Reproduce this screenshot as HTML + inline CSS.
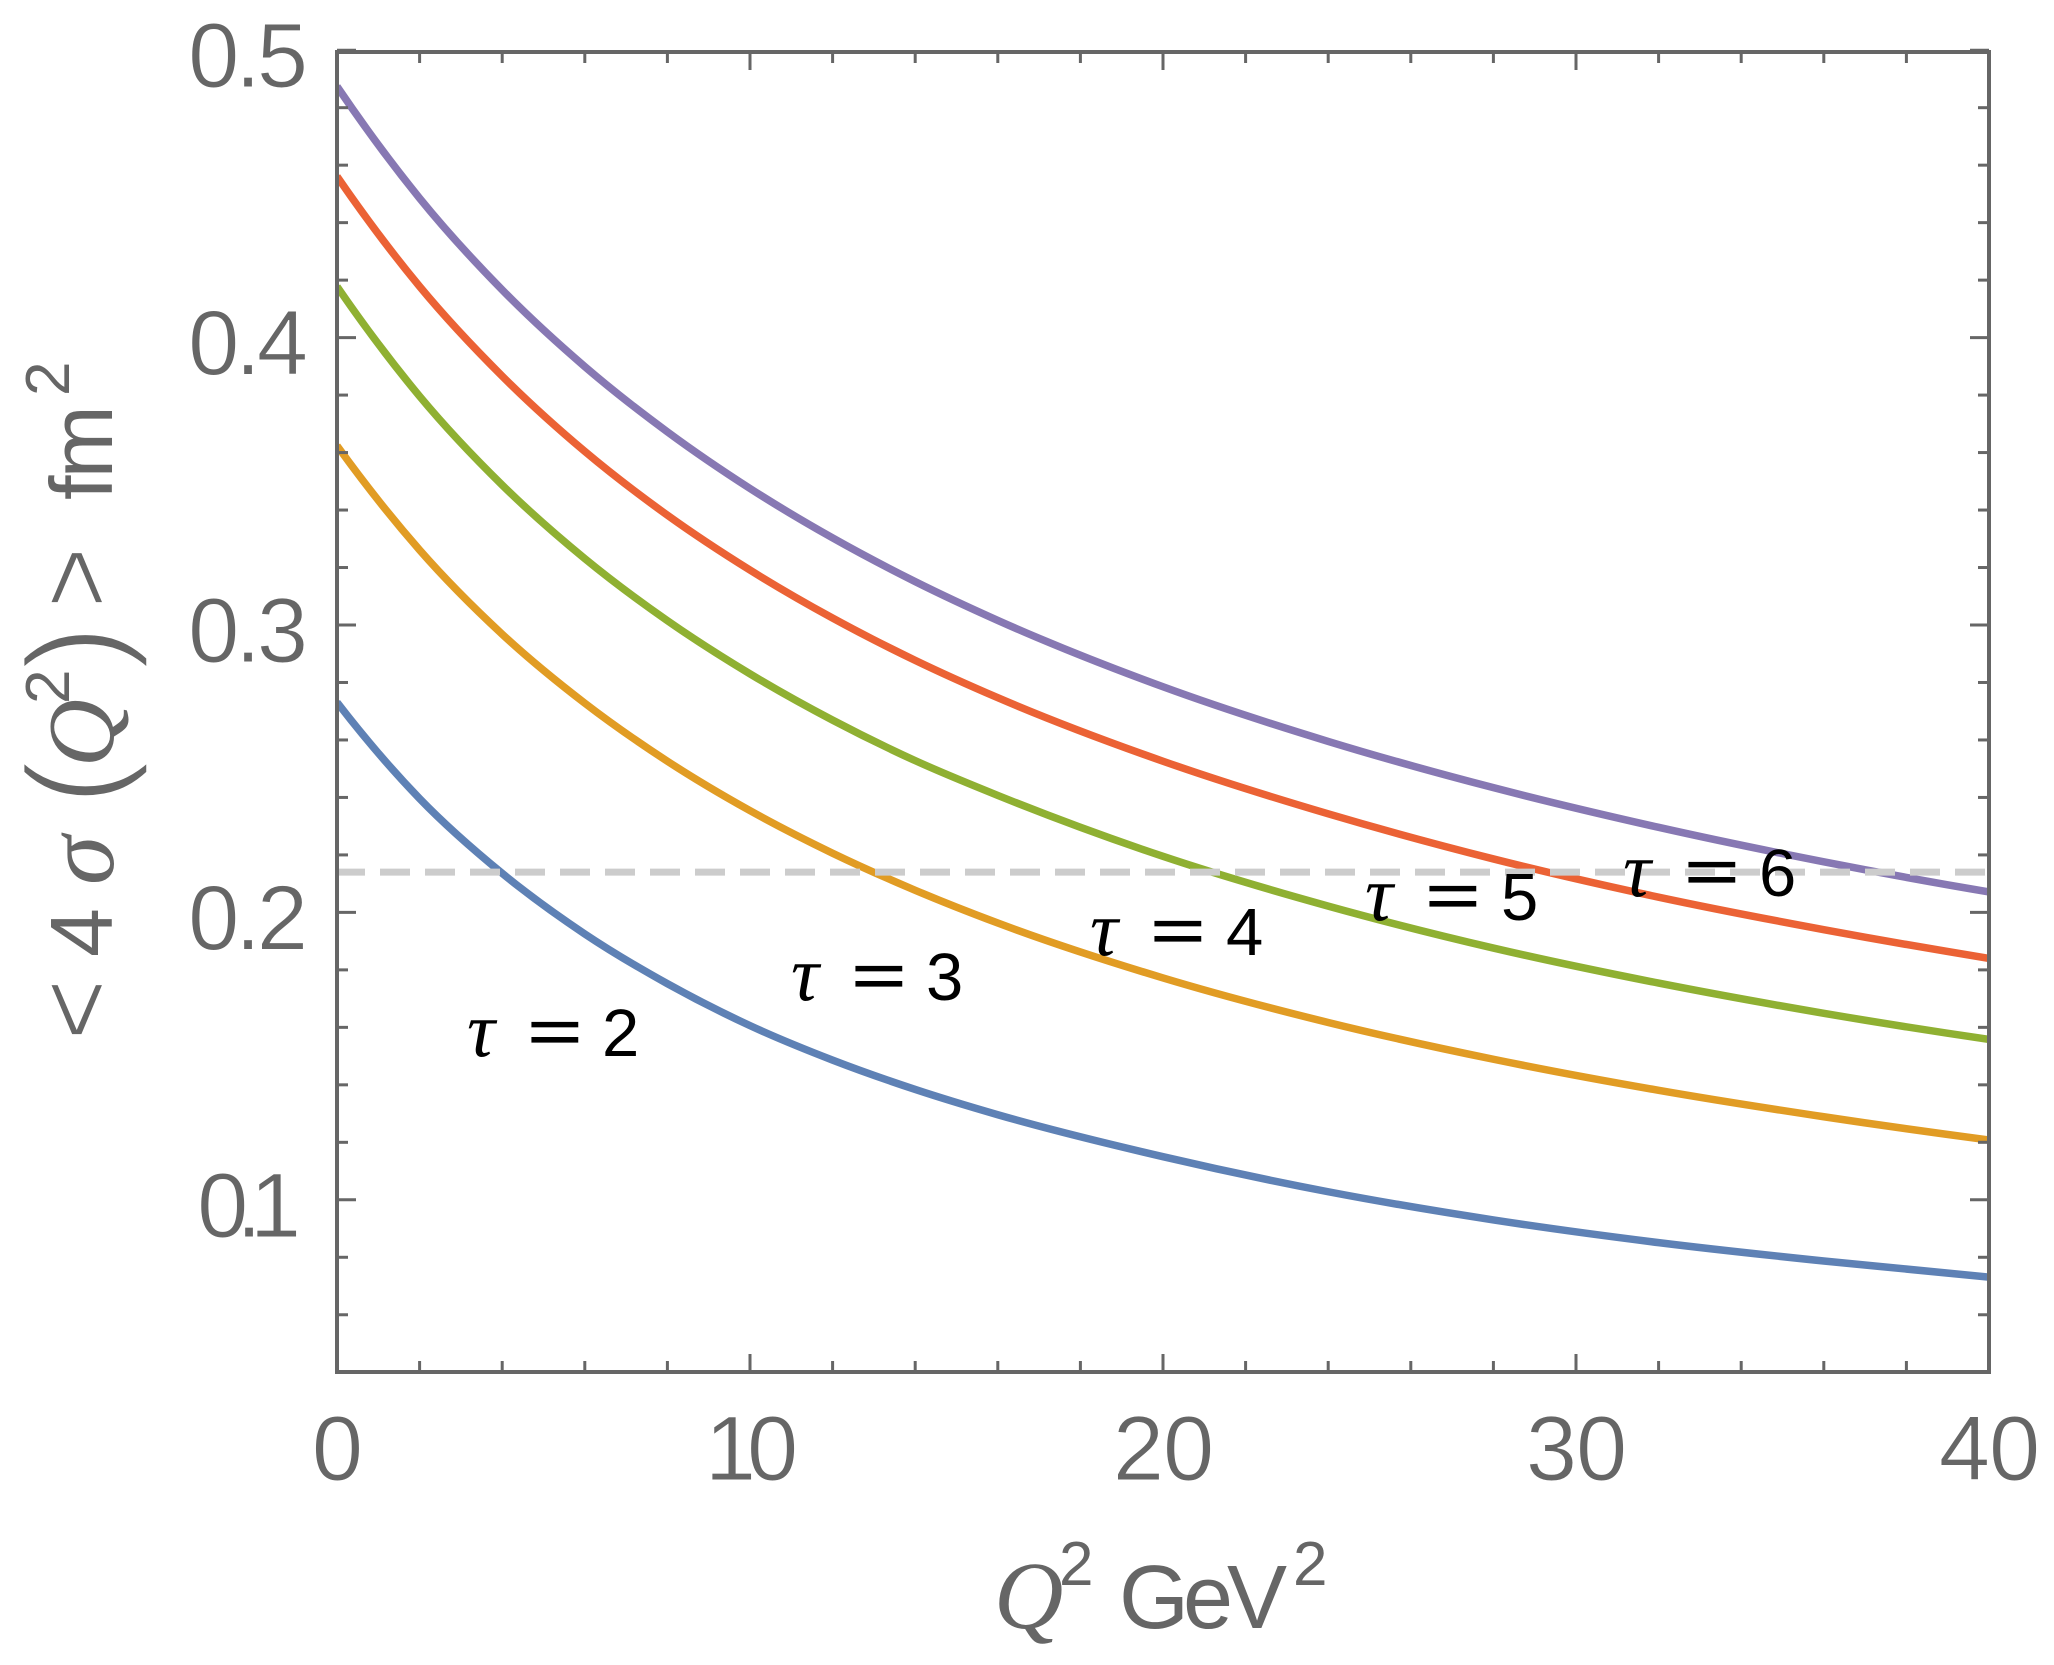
<!DOCTYPE html>
<html lang="en">
<head>
<meta charset="utf-8">
<title>Transverse size vs Q squared</title>
<style>
  html, body { margin: 0; padding: 0; background: #fff; }
  svg { display: block; }
  .tick-label { font-family: "Liberation Sans", sans-serif; font-size: 92px; fill: #666; stroke: #fff; stroke-width: 1; letter-spacing: -4px; }
  .axis-sans { font-family: "Liberation Sans", sans-serif; fill: #666; }
  .axis-serif { font-family: "Liberation Serif", serif; fill: #666; }
  .thin { stroke: #fff; stroke-width: 1.6; }
  .thinner { stroke: #fff; stroke-width: 3; }
  .tau { font-family: "Liberation Serif", serif; font-style: italic; font-size: 78px; fill: #000; }
  .eq { font-family: "DejaVu Sans", sans-serif; font-size: 76px; fill: #000; stroke: #fff; stroke-width: 0.7; }
  .num { font-family: "Liberation Sans", sans-serif; font-size: 67px; fill: #000; }
</style>
</head>
<body>
<svg id="chart" xmlns="http://www.w3.org/2000/svg" width="2054" height="1665" viewBox="0 0 2054 1665">
  <rect width="2054" height="1665" fill="#fff"/>
  <defs>
    <clipPath id="plot-clip"><rect x="337" y="52" width="1652" height="1320"/></clipPath>
  </defs>
  <g id="curves" clip-path="url(#plot-clip)"></g>
  <g id="ref" clip-path="url(#plot-clip)"></g>
  <g id="ticks"></g>
  <rect x="337" y="52" width="1652" height="1320" fill="none" stroke="#666" stroke-width="4"/>
  <g id="labels"></g>

  <g transform="translate(113,1037) rotate(-90)">
    <text class="axis-sans thin" x="-3" y="-2" font-size="104">&lt;</text>
    <text class="axis-sans" x="80" y="-1" font-size="88">4</text>
    <text class="axis-serif" x="152" y="0" font-size="100" font-style="italic">σ</text>
    <text class="axis-sans thinner" x="232" y="7" font-size="134">(</text>
    <text class="axis-serif" x="270" y="0" font-size="94" font-style="italic">Q</text>
    <text class="axis-sans" x="333" y="-44" font-size="62">2</text>
    <text class="axis-sans thinner" x="367" y="7" font-size="134">)</text>
    <text class="axis-sans thin" x="429" y="-2" font-size="104">&gt;</text>
    <text class="axis-sans" x="537" y="-1" font-size="88" letter-spacing="-3">fm</text>
    <text class="axis-sans" x="641" y="-44" font-size="62">2</text>
  </g>

  <g>
    <text class="axis-serif" x="994" y="1628" font-size="96" font-style="italic">Q</text>
    <text class="axis-sans" x="1059" y="1585" font-size="62">2</text>
    <text class="axis-sans" x="1119" y="1628" font-size="90" letter-spacing="-6">GeV</text>
    <text class="axis-sans" x="1293" y="1585" font-size="62">2</text>
  </g>

  <g><text class="tau" x="467" y="1056">τ</text><text class="eq" x="523" y="1056">=</text><text class="num" x="602" y="1056">2</text></g>
  <g><text class="tau" x="791" y="1000">τ</text><text class="eq" x="847" y="1000">=</text><text class="num" x="926" y="1000">3</text></g>
  <g><text class="tau" x="1090" y="955">τ</text><text class="eq" x="1146" y="955">=</text><text class="num" x="1226" y="955">4</text></g>
  <g><text class="tau" x="1365" y="920">τ</text><text class="eq" x="1421" y="920">=</text><text class="num" x="1501" y="920">5</text></g>
  <g><text class="tau" x="1623" y="896">τ</text><text class="eq" x="1680" y="896">=</text><text class="num" x="1759" y="896">6</text></g>
</svg>
<script>
const qValues = [0, 2, 4, 6, 8, 10, 12, 14, 16, 20, 24, 28, 32, 36, 40];
const tau2Values = [0.2731, 0.2396, 0.2136, 0.1925, 0.1752, 0.1606, 0.1486, 0.1384, 0.1296, 0.1150, 0.1028, 0.0930, 0.0851, 0.0787, 0.0731];
const tau3Values = [0.3624, 0.3261, 0.2968, 0.2728, 0.2526, 0.2354, 0.2206, 0.2077, 0.1963, 0.1772, 0.1617, 0.1489, 0.1381, 0.1289, 0.1208];
const tau4Values = [0.4178, 0.3796, 0.3487, 0.3231, 0.3015, 0.2830, 0.2669, 0.2528, 0.2407, 0.2195, 0.2022, 0.1876, 0.1754, 0.1649, 0.1558];
const tau5Values = [0.4561, 0.4178, 0.3866, 0.3604, 0.3382, 0.3191, 0.3024, 0.2877, 0.2747, 0.2526, 0.2343, 0.2186, 0.2053, 0.1940, 0.1840];
const tau6Values = [0.4874, 0.4485, 0.4166, 0.3899, 0.3672, 0.3475, 0.3303, 0.3151, 0.3016, 0.2785, 0.2595, 0.2434, 0.2296, 0.2176, 0.2071];
const referenceValue = 0.214;
const xMajorTicks = [0, 10, 20, 30, 40];
const xMinorTicks = [2, 4, 6, 8, 12, 14, 16, 18, 22, 24, 26, 28, 32, 34, 36, 38];
const yMajorTicks = [0.1, 0.2, 0.3, 0.4, 0.5];
const yMinorTicks = [0.04, 0.06, 0.08, 0.12, 0.14, 0.16, 0.18, 0.22, 0.24, 0.26, 0.28, 0.32, 0.34, 0.36, 0.38, 0.42, 0.44, 0.46, 0.48];
const xTickLabels = ["0", "10", "20", "30", "40"];
const yTickLabels = ["0.1", "0.2", "0.3", "0.4", "0.5"];

const NS = "http://www.w3.org/2000/svg";
const xScale = q => 337 + q * 41.3;
const yScale = v => 1199.8 - (v - 0.1) * 2874;

function make(parent, tag, attrs) {
  const el = document.createElementNS(NS, tag);
  for (const k in attrs) el.setAttribute(k, attrs[k]);
  parent.appendChild(el);
  return el;
}

function curvePath(qs, vs) {
  const n = qs.length;
  const m = [];
  for (let i = 0; i < n; i++) {
    if (i === 0) {
      const h0 = qs[1] - qs[0], h1 = qs[2] - qs[1];
      const d0 = (vs[1] - vs[0]) / h0, d1 = (vs[2] - vs[1]) / h1;
      m.push(d0 + (d0 - d1) * h0 / (h0 + h1));
    } else if (i === n - 1) {
      const h0 = qs[n - 2] - qs[n - 3], h1 = qs[n - 1] - qs[n - 2];
      const d0 = (vs[n - 2] - vs[n - 3]) / h0, d1 = (vs[n - 1] - vs[n - 2]) / h1;
      m.push(d1 + (d1 - d0) * h1 / (h0 + h1));
    } else {
      const h0 = qs[i] - qs[i - 1], h1 = qs[i + 1] - qs[i];
      const d0 = (vs[i] - vs[i - 1]) / h0, d1 = (vs[i + 1] - vs[i]) / h1;
      m.push((d0 * h1 + d1 * h0) / (h0 + h1));
    }
  }
  let d = "M" + xScale(qs[0]).toFixed(2) + " " + yScale(vs[0]).toFixed(2);
  for (let i = 0; i < n - 1; i++) {
    const h = qs[i + 1] - qs[i];
    d += " C" + xScale(qs[i] + h / 3).toFixed(2) + " " + yScale(vs[i] + m[i] * h / 3).toFixed(2) +
         " " + xScale(qs[i + 1] - h / 3).toFixed(2) + " " + yScale(vs[i + 1] - m[i + 1] * h / 3).toFixed(2) +
         " " + xScale(qs[i + 1]).toFixed(2) + " " + yScale(vs[i + 1]).toFixed(2);
  }
  return d;
}

const curves = document.getElementById("curves");
const lineWidth = 7.5;

const lineTau2 = make(curves, "path", { d: curvePath(qValues, tau2Values), fill: "none", stroke: "#5E81B5", "stroke-width": lineWidth });


const lineTau3 = make(curves, "path", { d: curvePath(qValues, tau3Values), fill: "none", stroke: "#E19C24", "stroke-width": lineWidth });


const lineTau4 = make(curves, "path", { d: curvePath(qValues, tau4Values), fill: "none", stroke: "#8FB032", "stroke-width": lineWidth });


const lineTau5 = make(curves, "path", { d: curvePath(qValues, tau5Values), fill: "none", stroke: "#EB6235", "stroke-width": lineWidth });


const lineTau6 = make(curves, "path", { d: curvePath(qValues, tau6Values), fill: "none", stroke: "#8778B3", "stroke-width": lineWidth });



const refGroup = document.getElementById("ref");
const refLine = make(refGroup, "line", {
  x1: 335, x2: 1989, y1: yScale(referenceValue), y2: yScale(referenceValue),
  stroke: "#CCCCCC", "stroke-width": 7, "stroke-dasharray": "30 15"
});



const ticks = document.getElementById("ticks");
function tick(x1, y1, x2, y2) {
  const t = make(ticks, "line", { x1: x1, y1: y1, x2: x2, y2: y2, stroke: "#666", "stroke-width": 3 });
  
  
}
xMajorTicks.forEach(q => {
  tick(xScale(q), 1372, xScale(q), 1354);
  tick(xScale(q), 52, xScale(q), 70);
});
xMinorTicks.forEach(q => {
  tick(xScale(q), 1372, xScale(q), 1361);
  tick(xScale(q), 52, xScale(q), 63);
});
yMajorTicks.forEach(v => {
  tick(337, yScale(v), 356, yScale(v));
  tick(1989, yScale(v), 1970, yScale(v));
});
yMinorTicks.forEach(v => {
  tick(337, yScale(v), 348, yScale(v));
  tick(1989, yScale(v), 1978, yScale(v));
});

const labels = document.getElementById("labels");
xMajorTicks.forEach((q, i) => {
  const isTen = xTickLabels[i] === "10";
  const t = make(labels, "text", { x: xScale(q) - (isTen ? 3 : 0), y: 1480, "text-anchor": "middle", class: "tick-label" });
  t.textContent = xTickLabels[i];
  t.style.letterSpacing = isTen ? "-9px" : "-1px";
  
  
});
yMajorTicks.forEach((v, i) => {
  const isOne = yTickLabels[i] === "0.1";
  const t = make(labels, "text", { x: isOne ? 289 : 304, y: yScale(v) + 37, "text-anchor": "end", class: "tick-label" });
  t.textContent = yTickLabels[i];
  if (isOne) t.style.letterSpacing = "-12px";
  
  
});
</script>
</body>
</html>
